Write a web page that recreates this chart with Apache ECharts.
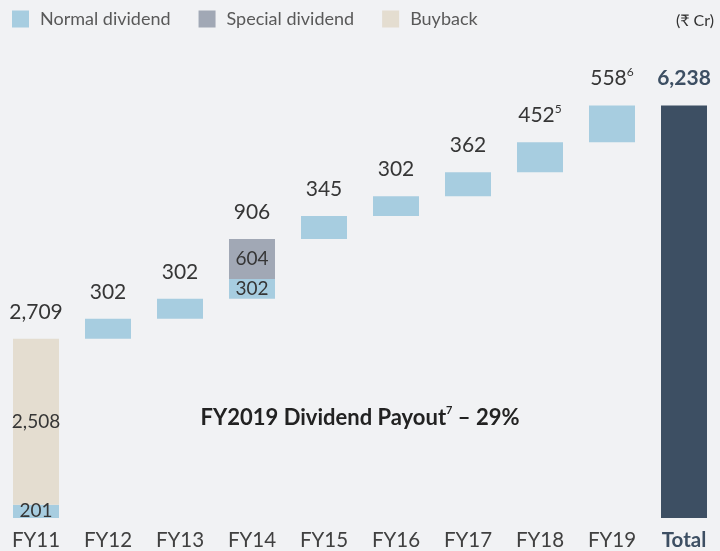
<!DOCTYPE html>
<html>
<head>
<meta charset="utf-8">
<script src="https://cdn.jsdelivr.net/npm/echarts@6/dist/echarts.min.js"></script>
<style>
  html, body { margin: 0; padding: 0; background: #f1f2f4; }
  #chart { width: 720px; height: 551px; }
</style>
</head>
<body>
<div id="chart"></div>
<script>
const years = ['FY11', 'FY12', 'FY13', 'FY14', 'FY15', 'FY16', 'FY17', 'FY18', 'FY19', 'Total']
const normalDividend = [201, 302, 302, 302, 345, 302, 362, 452, 558]
const specialDividend = [0, 0, 0, 604, 0, 0, 0, 0, 0]
const buyback = [2508, 0, 0, 0, 0, 0, 0, 0, 0]
const footnotes = ['', '', '', '', '', '', '', '5', '6']

const font = 'Lato, "Open Sans", "Noto Sans", sans-serif'
const textColor = '#363636'
const slate = '#3d4f63'

// waterfall: hidden base = running total before each year
const yearTotals = normalDividend.map((v, i) => v + specialDividend[i] + buyback[i])
const base = []
let running = 0
yearTotals.forEach(t => { base.push(running); running += t })
const grandTotal = running

const fmt = v => v.toLocaleString('en-US')
const nz = arr => arr.map(v => (v === 0 ? '-' : v))

const chart = echarts.init(document.getElementById('chart'))

chart.setOption({
  backgroundColor: '#f1f2f4',
  animation: false,
  textStyle: { fontFamily: font },
  legend: {
    data: ['Normal dividend', 'Special dividend', 'Buyback'],
    left: 12,
    top: 10,
    padding: 0,
    icon: 'rect',
    itemWidth: 17,
    itemHeight: 17,
    itemGap: 28,
    textStyle: { fontSize: 18, color: '#595959', fontFamily: font, padding: [0, 0, 0, 6] }
  },
  graphic: [
    {
      type: 'text',
      right: 6,
      top: 13,
      style: { text: '(₹ Cr)', fontSize: 16, fill: '#333', fontFamily: font }
    },
    {
      type: 'text',
      left: 'center',
      top: 405,
      x: 15,
      style: {
        text: '{b|FY2019 Dividend Payout}{s|7}{b| – 29%}',
        fontFamily: font,
        rich: {
          b: { fontSize: 22, fontWeight: 'bold', fill: '#222', lineHeight: 26, fontFamily: font },
          s: { fontSize: 11, fontWeight: 'bold', fill: '#222', verticalAlign: 'top', lineHeight: 26, fontFamily: font }
        }
      }
    }
  ],
  grid: { left: -1, width: 728, top: 55, bottom: 33 },
  xAxis: {
    type: 'category',
    data: years.map(y => (y === 'Total'
      ? { value: y, textStyle: { fontWeight: 'bold', color: slate } }
      : y)),
    axisLine: { show: false },
    axisTick: { show: false },
    axisLabel: { fontSize: 20.5, color: '#404040', margin: 12, fontFamily: font }
  },
  yAxis: {
    type: 'value',
    min: 0,
    max: 7000,
    show: false,
    splitLine: { show: false }
  },
  series: [
    {
      name: 'base',
      type: 'bar',
      stack: 'w',
      barWidth: 46,
      itemStyle: { color: 'transparent' },
      silent: true,
      data: base.concat([0])
    },
    {
      name: 'Normal dividend',
      type: 'bar',
      stack: 'w',
      itemStyle: { color: '#a7cde0' },
      label: {
        show: true,
        position: 'inside',
        fontSize: 19,
        color: textColor,
        fontFamily: font,
        formatter: p => (p.dataIndex === 0 || p.dataIndex === 3 ? fmt(p.value) : '')
      },
      data: normalDividend.concat(['-'])
    },
    {
      name: 'Special dividend',
      type: 'bar',
      stack: 'w',
      itemStyle: { color: '#a1a8b5' },
      label: {
        show: true,
        position: 'inside',
        fontSize: 19,
        color: textColor,
        fontFamily: font,
        formatter: p => fmt(p.value)
      },
      data: nz(specialDividend).concat(['-'])
    },
    {
      name: 'Buyback',
      type: 'bar',
      stack: 'w',
      itemStyle: { color: '#e4ddd0' },
      label: {
        show: true,
        position: 'inside',
        fontSize: 19,
        color: textColor,
        fontFamily: font,
        formatter: p => fmt(p.value)
      },
      data: nz(buyback).concat(['-'])
    },
    {
      name: 'Total',
      type: 'bar',
      stack: 'w',
      itemStyle: { color: slate },
      data: years.map((y, i) => (i === years.length - 1 ? grandTotal : '-'))
    },
    {
      // value labels sitting above each column
      name: 'labels',
      type: 'scatter',
      symbolSize: 2,
      itemStyle: { color: 'rgba(0,0,0,0)', opacity: 1 },
      silent: true,
      label: {
        show: true,
        position: 'top',
        distance: 14,
        fontFamily: font,
        formatter: p => {
          if (p.dataIndex === years.length - 1) return '{t|' + fmt(grandTotal) + '}'
          const n = footnotes[p.dataIndex]
          return '{v|' + fmt(yearTotals[p.dataIndex]) + '}' + (n ? '{s|' + n + '}' : '')
        },
        rich: {
          v: { fontSize: 21, color: textColor, lineHeight: 24, fontFamily: font },
          s: { fontSize: 12, color: textColor, lineHeight: 24, verticalAlign: 'top', fontFamily: font },
          t: { fontSize: 21, color: slate, fontWeight: 'bold', lineHeight: 24, fontFamily: font }
        }
      },
      data: base.map((b, i) => b + yearTotals[i]).concat([grandTotal])
    }
  ]
})
</script>
</body>
</html>
